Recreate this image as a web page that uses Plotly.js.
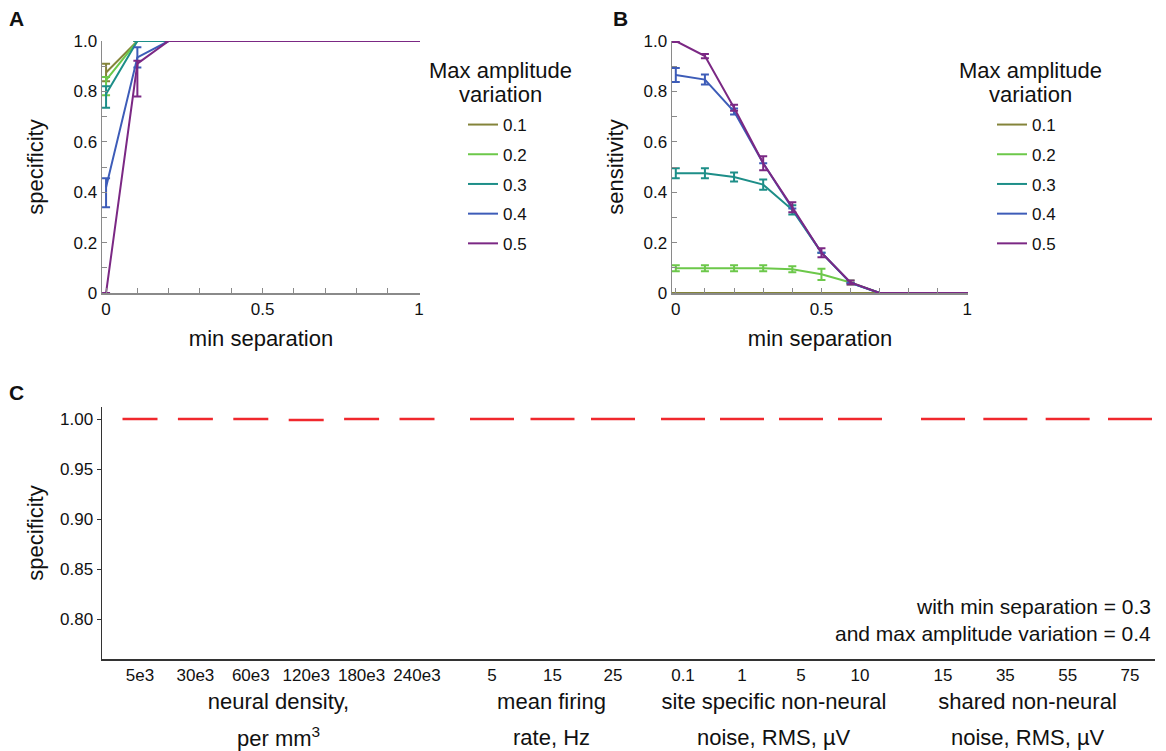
<!DOCTYPE html>
<html>
<head>
<meta charset="utf-8">
<script src="https://cdn.plot.ly/plotly-3.0.1.min.js"></script>
<style>html,body{margin:0;padding:0;background:#fff;}#chart{width:1166px;height:751px;}</style>
</head>
<body>
<div id="chart"></div>
<script>
// ---------------- DATA ----------------
const minSeparation = [0, 0.1, 0.2, 0.3, 0.4, 0.5, 0.6, 0.7, 0.8, 0.9, 1.0];
const ampVariation = ['0.1', '0.2', '0.3', '0.4', '0.5'];

// Panel A: specificity
const specOlive  = [0.875, 1, 1, 1, 1, 1, 1, 1, 1, 1, 1];
const specLime   = [0.845, 1, 1, 1, 1, 1, 1, 1, 1, 1, 1];
const specTeal   = [0.79, 1, 1, 1, 1, 1, 1, 1, 1, 1, 1];
const specBlue   = [0.42, 0.935, 1, 1, 1, 1, 1, 1, 1, 1, 1];
const specPurple = [0, 0.91, 1, 1, 1, 1, 1, 1, 1, 1, 1];
const specOliveErrUp   = [0.035, null, null, null, null, null, null, null, null, null, null];
const specOliveErrDown = [0.035, null, null, null, null, null, null, null, null, null, null];
const specLimeErrUp    = [0.012, null, null, null, null, null, null, null, null, null, null];
const specLimeErrDown  = [0.06, null, null, null, null, null, null, null, null, null, null];
const specTealErrUp    = [0.03, null, null, null, null, null, null, null, null, null, null];
const specTealErrDown  = [0.055, null, null, null, null, null, null, null, null, null, null];
const specBlueErrUp    = [0.035, 0.04, null, null, null, null, null, null, null, null, null];
const specBlueErrDown  = [0.08, 0.04, null, null, null, null, null, null, null, null, null];
const specPurpleErrUp  = [null, 0.012, null, null, null, null, null, null, null, null, null];
const specPurpleErrDown= [null, 0.13, null, null, null, null, null, null, null, null, null];

// Panel B: sensitivity
const sensOlive  = [0, 0, 0, 0, 0, 0, 0, 0, 0, 0, 0];
const sensLime   = [0.098, 0.098, 0.098, 0.098, 0.094, 0.074, 0.042, 0, 0, 0, 0];
const sensTeal   = [0.475, 0.475, 0.46, 0.43, 0.33, 0.16, 0.04, 0, 0, 0, 0];
const sensBlue   = [0.865, 0.847, 0.72, 0.515, 0.335, 0.16, 0.04, 0, 0, 0, 0];
const sensPurple = [1.0, 0.94, 0.735, 0.515, 0.34, 0.16, 0.042, 0, 0, 0, 0];
const sensOliveErr  = [null, null, null, null, null, null, null, null, null, null, null];
const sensLimeErr   = [0.012, 0.012, 0.012, 0.012, 0.012, 0.022, 0.008, null, null, null, null];
const sensTealErr   = [0.02, 0.02, 0.018, 0.02, 0.018, null, null, null, null, null, null];
const sensBlueErr   = [0.028, 0.02, 0.012, null, null, null, null, null, null, null, null];
const sensPurpleErr = [0.004, 0.008, 0.012, 0.028, 0.02, 0.018, 0.008, null, null, null, null];

// Panel C: specificity per parameter value
const densityLabels = ['5e3', '30e3', '60e3', '120e3', '180e3', '240e3'];
const densitySpec   = [1, 1, 1, 0.999, 1, 1];
const rateLabels    = ['5', '15', '25'];
const rateSpec      = [1, 1, 1];
const siteNoiseLabels = ['0.1', '1', '5', '10'];
const siteNoiseSpec   = [1, 1, 1, 1];
const sharedNoiseLabels = ['15', '35', '55', '75'];
const sharedNoiseSpec   = [1, 1, 1, 1];

// ---------------- STYLE / LAYOUT ----------------
const W = 1166, H = 751;
const fx = px => px / W;
const fy = py => 1 - py / H;
const FONT = 'Liberation Sans, Arial, sans-serif';
const colors = ['#84843a', '#6cc84a', '#1d8e88', '#3d5cb8', '#7b2884'];
const axisGrey = '#8a8a8a';
const TITLE = 22;

const specSeries = [specOlive, specLime, specTeal, specBlue, specPurple];
const specUp = [specOliveErrUp, specLimeErrUp, specTealErrUp, specBlueErrUp, specPurpleErrUp];
const specDown = [specOliveErrDown, specLimeErrDown, specTealErrDown, specBlueErrDown, specPurpleErrDown];
const sensSeries = [sensOlive, sensLime, sensTeal, sensBlue, sensPurple];
const sensErr = [sensOliveErr, sensLimeErr, sensTealErr, sensBlueErr, sensPurpleErr];

const traces = [];
ampVariation.forEach((name, i) => {
  traces.push({
    type: 'scatter', mode: 'lines', x: minSeparation, y: specSeries[i],
    xaxis: 'x', yaxis: 'y', name: name, legend: 'legend', legendgroup: 'a' + i,
    line: {color: colors[i], width: 2}, cliponaxis: false,
    error_y: {type: 'data', symmetric: false, array: specUp[i], arrayminus: specDown[i],
              color: colors[i], thickness: 2, width: 4}
  });
});
ampVariation.forEach((name, i) => {
  traces.push({
    type: 'scatter', mode: 'lines', x: minSeparation, y: sensSeries[i],
    xaxis: 'x2', yaxis: 'y2', name: name, legend: 'legend2', legendgroup: 'b' + i,
    line: {color: colors[i], width: 2}, cliponaxis: false,
    error_y: {type: 'data', array: sensErr[i], color: colors[i], thickness: 2, width: 4}
  });
});

// Panel C groups
const groups = [
  {labels: densityLabels, values: densitySpec, dom: [102, 455], first: 140, last: 417, dash: 35,
   title: 'neural density,', title2: 'per mm<sup>3</sup>'},
  {labels: rateLabels, values: rateSpec, dom: [455, 648], first: 492, last: 613, dash: 44,
   title: 'mean firing', title2: 'rate, Hz'},
  {labels: siteNoiseLabels, values: siteNoiseSpec, dom: [648, 900], first: 683, last: 860, dash: 44,
   title: 'site specific non-neural', title2: 'noise, RMS, µV'},
  {labels: sharedNoiseLabels, values: sharedNoiseSpec, dom: [900, 1155], first: 943, last: 1130, dash: 44,
   title: 'shared non-neural', title2: 'noise, RMS, µV'}
];

const layout = {
  width: W, height: H, margin: {l: 0, r: 0, t: 0, b: 0},
  paper_bgcolor: '#fff', plot_bgcolor: 'rgba(0,0,0,0)',
  font: {family: FONT, size: 17, color: '#111'},
  showlegend: true, hovermode: false,
  annotations: [], shapes: []
};

function abAxes(xd) {
  const xa = {
    domain: [fx(xd[0]), fx(xd[1])], range: [-0.013, 1.003], showgrid: false, zeroline: false,
    showline: true, linecolor: axisGrey, linewidth: 1.5,
    ticks: 'inside', ticklen: 5, tickcolor: axisGrey, tickwidth: 1,
    tickvals: [0, 0.5, 1], ticktext: ['0', '0.5', '1'],
    minor: {tickvals: [0.1, 0.2, 0.3, 0.4, 0.6, 0.7, 0.8, 0.9], ticks: 'inside', ticklen: 5, tickcolor: axisGrey},
    tickfont: {size: 17}, fixedrange: true,
    title: {text: 'min separation', font: {size: TITLE}, standoff: 12}
  };
  const ya = {
    domain: [fy(293), fy(41)], range: [0, 1], showgrid: false, zeroline: false,
    showline: true, linecolor: axisGrey, linewidth: 1.5,
    ticks: 'inside', ticklen: 5, tickcolor: axisGrey, tickwidth: 1,
    tickvals: [0, 0.2, 0.4, 0.6, 0.8, 1.0], ticktext: ['0', '0.2', '0.4', '0.6', '0.8', '1.0'],
    minor: {tickvals: [0.1, 0.3, 0.5, 0.7, 0.9], ticks: 'inside', ticklen: 5, tickcolor: axisGrey},
    tickfont: {size: 17}, fixedrange: true
  };
  return [xa, ya];
}
const [xA, yA] = abAxes([102, 420]);
yA.title = {text: 'specificity', font: {size: TITLE}, standoff: 24};
xA.anchor = 'y'; yA.anchor = 'x';
const [xB, yB] = abAxes([672, 968]);
yB.title = {text: 'sensitivity', font: {size: TITLE}, standoff: 14};
xB.anchor = 'y2'; yB.anchor = 'x2';
layout.xaxis = xA; layout.yaxis = yA;
layout.xaxis2 = xB; layout.yaxis2 = yB;

const legendBase = {
  xanchor: 'left', yanchor: 'top', bgcolor: 'rgba(0,0,0,0)', borderwidth: 0,
  font: {size: 17, color: '#111'}, tracegroupgap: 4.6, itemclick: false, itemdoubleclick: false
};
layout.legend = Object.assign({}, legendBase, {x: fx(463), y: fy(107)});
layout.legend2 = Object.assign({}, legendBase, {x: fx(992), y: fy(107)});

// legend titles (as annotations, centred over the entries)
[500, 1030].forEach(cx => {
  layout.annotations.push(
    {text: 'Max amplitude', x: fx(cx), y: fy(70), xref: 'paper', yref: 'paper',
     xanchor: 'center', yanchor: 'middle', showarrow: false, font: {size: TITLE}},
    {text: 'variation', x: fx(cx), y: fy(94), xref: 'paper', yref: 'paper',
     xanchor: 'center', yanchor: 'middle', showarrow: false, font: {size: TITLE}});
});

// Panel C axes
layout.yaxis3 = {
  domain: [fy(659), fy(407)], range: [0.76, 1.012], anchor: 'x3',
  showgrid: false, zeroline: false, showline: true, linecolor: '#333', linewidth: 1.5,
  ticks: 'outside', ticklen: 4, tickcolor: '#333',
  tickvals: [0.8, 0.85, 0.9, 0.95, 1.0], tickformat: '.2f', tickfont: {size: 17}, fixedrange: true,
  title: {text: 'specificity', font: {size: TITLE}, standoff: 10}
};

groups.forEach((g, k) => {
  const axN = k + 3;
  const n = g.labels.length;
  const spacing = (g.last - g.first) / (n - 1);
  const r0 = (g.dom[0] - g.first) / spacing;
  const r1 = (g.dom[1] - g.first) / spacing;
  const idx = g.labels.map((_, i) => i);
  layout['xaxis' + axN] = {
    domain: [fx(g.dom[0]), fx(g.dom[1])], range: [r0, r1], anchor: 'y3',
    showgrid: false, zeroline: false, showline: true, linecolor: '#333', linewidth: 1.5,
    ticks: '', tickvals: idx, ticktext: g.labels, tickfont: {size: 17}, fixedrange: true,
    title: {text: g.title, font: {size: TITLE}, standoff: 9}
  };
  layout.annotations.push({text: g.title2, xref: 'x' + axN + ' domain', x: 0.5, yref: 'paper', y: fy(737),
    xanchor: 'center', yanchor: 'middle', showarrow: false, font: {size: TITLE}});
  // one red dash per category, centred on the category, at its specificity value
  const half = (g.dash / 2) / spacing;
  const xs = [], ys = [];
  g.values.forEach((v, i) => { xs.push(i - half, i + half, null); ys.push(v, v, null); });
  traces.push({
    type: 'scatter', mode: 'lines', x: xs, y: ys, xaxis: 'x' + axN, yaxis: 'y3',
    showlegend: false, line: {color: '#f0282d', width: 2.5}, cliponaxis: false, connectgaps: false
  });
});

layout.annotations.push(
  {text: 'with min separation = 0.3', x: fx(1153), y: fy(606), xref: 'paper', yref: 'paper',
   xanchor: 'right', yanchor: 'middle', showarrow: false, font: {size: 21}},
  {text: 'and max amplitude variation = 0.4', x: fx(1153), y: fy(633), xref: 'paper', yref: 'paper',
   xanchor: 'right', yanchor: 'middle', showarrow: false, font: {size: 21}},
  {text: '<b>A</b>', x: fx(16), y: fy(19), xref: 'paper', yref: 'paper', xanchor: 'center', yanchor: 'middle',
   showarrow: false, font: {size: 21}},
  {text: '<b>B</b>', x: fx(620), y: fy(19), xref: 'paper', yref: 'paper', xanchor: 'center', yanchor: 'middle',
   showarrow: false, font: {size: 21}},
  {text: '<b>C</b>', x: fx(16), y: fy(393), xref: 'paper', yref: 'paper', xanchor: 'center', yanchor: 'middle',
   showarrow: false, font: {size: 21}}
);

Plotly.newPlot('chart', traces, layout, {staticPlot: true, displayModeBar: false});
</script>
</body>
</html>
